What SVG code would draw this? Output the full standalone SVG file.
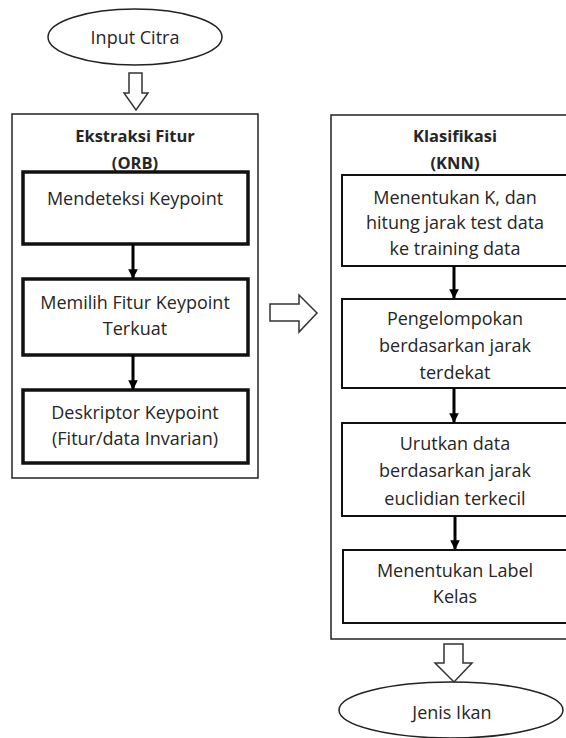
<svg xmlns="http://www.w3.org/2000/svg" width="566" height="738" viewBox="0 0 566 738">
<style>
text{font-family:"Open Sans","Liberation Sans",sans-serif;font-size:18px;fill:#262626;text-anchor:middle;dominant-baseline:central}
.b{font-weight:bold;font-size:16.5px}
.outer{fill:#fff;stroke:#222;stroke-width:1.5}
.thick{fill:#fff;stroke:#111;stroke-width:3.5}
.thin{fill:#fff;stroke:#111;stroke-width:2}
.ell{fill:#fff;stroke:#222;stroke-width:1.5}
.hollow{fill:#fff;stroke:#333;stroke-width:1.5;stroke-linejoin:miter}
.con{stroke:#000;stroke-width:3;fill:none}
</style>
<defs>
<marker id="ah" viewBox="0 0 10 10" refX="9" refY="5" markerWidth="3.2" markerHeight="3.2" orient="auto" markerUnits="strokeWidth">
<path d="M0,0 L10,5 L0,10 z" fill="#000"/>
</marker>
</defs>
<g id="input-citra">
<ellipse class="ell" cx="135" cy="37" rx="87" ry="28"/>
<text x="135" y="37">Input Citra</text>
</g>
<g id="ekstraksi">
<rect class="outer" x="12" y="114" width="246" height="364"/>
<text class="b" x="135" y="135">Ekstraksi Fitur</text>
<text class="b" x="135" y="162">(ORB)</text>
</g>
<g id="mendeteksi">
<rect class="thick" x="23" y="172" width="225" height="72"/>
<text x="135" y="198">Mendeteksi Keypoint</text>
</g>
<g id="memilih">
<rect class="thick" x="23" y="279" width="225" height="76"/>
<text x="135" y="302">Memilih Fitur Keypoint</text>
<text x="135" y="328">Terkuat</text>
</g>
<g id="deskriptor">
<rect class="thick" x="23" y="390" width="225" height="73"/>
<text x="135" y="412">Deskriptor Keypoint</text>
<text x="135" y="438">(Fitur/data Invarian)</text>
</g>
<g id="klasifikasi">
<rect class="outer" x="331" y="115" width="250" height="524"/>
<text class="b" x="455" y="135">Klasifikasi</text>
<text class="b" x="455" y="162">(KNN)</text>
</g>
<g id="menentukan-k">
<rect class="thin" x="342" y="175" width="228" height="91"/>
<text x="455" y="197">Menentukan K, dan</text>
<text x="455" y="222">hitung jarak test data</text>
<text x="455" y="248">ke training data</text>
</g>
<g id="pengelompokan">
<rect class="thin" x="342" y="299" width="228" height="89"/>
<text x="455" y="318">Pengelompokan</text>
<text x="455" y="345">berdasarkan jarak</text>
<text x="455" y="372">terdekat</text>
</g>
<g id="urutkan">
<rect class="thin" x="342" y="423" width="228" height="93"/>
<text x="455" y="443">Urutkan data</text>
<text x="455" y="470">berdasarkan jarak</text>
<text x="455" y="498">euclidian terkecil</text>
</g>
<g id="label-kelas">
<rect class="thin" x="343" y="550" width="227" height="73"/>
<text x="455" y="570">Menentukan Label</text>
<text x="455" y="596">Kelas</text>
</g>
<g id="jenis-ikan">
<ellipse class="ell" cx="451" cy="710" rx="112" ry="28"/>
<text x="452" y="712">Jenis Ikan</text>
</g>
<g id="connectors">
<path class="hollow" d="M129,73 H142 V93 H148 L136,110 L124,93 H129 Z"/>
<path class="hollow" d="M270,304 H299 V295 L317,313 L299,332 V321 H270 Z"/>
<path class="hollow" d="M444,644 H463 V663 H472 L454,682 L435,663 H444 Z"/>
<line class="con" x1="133" y1="244" x2="133" y2="278" marker-end="url(#ah)"/>
<line class="con" x1="133" y1="355" x2="133" y2="389" marker-end="url(#ah)"/>
<line class="con" x1="454" y1="266" x2="454" y2="298" marker-end="url(#ah)"/>
<line class="con" x1="454" y1="388" x2="454" y2="422" marker-end="url(#ah)"/>
<line class="con" x1="455" y1="516" x2="455" y2="549" marker-end="url(#ah)"/>
</g>
</svg>
